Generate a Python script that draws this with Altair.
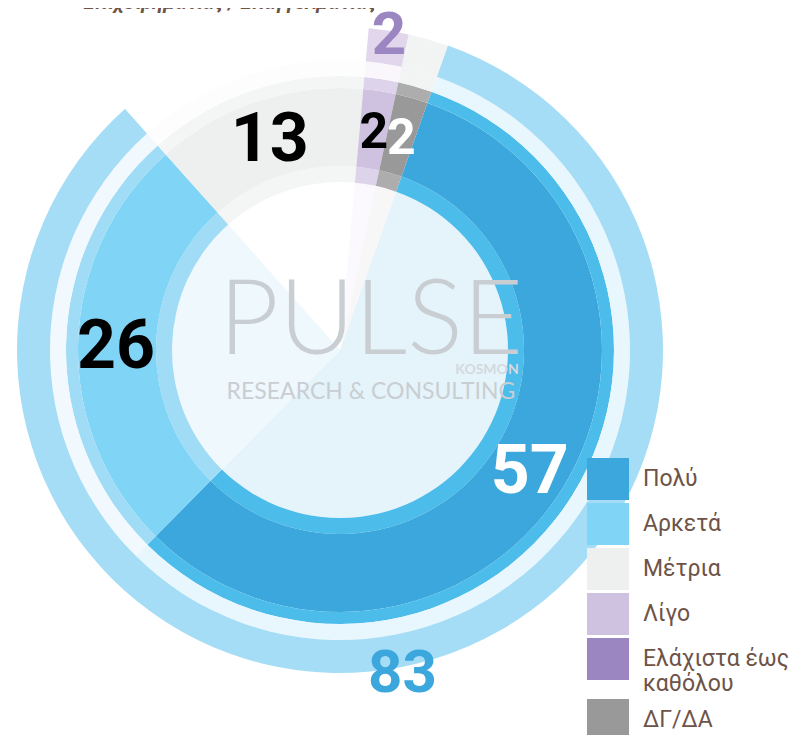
import math
import altair as alt
import pandas as pd

# ---------------- data ----------------
categories = ["Πολύ", "Αρκετά", "Μέτρια", "Λίγο", "Ελάχιστα έως καθόλου", "ΔΓ/ΔΑ"]
values = [57, 26, 13, 2, 0, 2]
value_labels = ["57", "26", "13", "2", "", "2"]

outer_groups = ["Πολύ + Αρκετά", "Μέτρια (σύνολο)", "Λίγο + Ελάχιστα", "ΔΓ/ΔΑ (σύνολο)"]
outer_values = [83, 13, 2, 2]
outer_labels = ["83", "", "2", ""]

title_text = "Επιχειρηματίας / Επαγγελματίας"
watermark_main = ["PULSE"]
watermark_sub = ["RESEARCH & CONSULTING"]
watermark_tag = ["KOSMON"]

# ---------------- styles ----------------
colors_main = ["#3ca7dc", "#80d4f6", "#eeefef", "#cfc1e0", "#9c86c1", "#999999"]
colors_strip = ["#4cbcea", "#a0dcf5", "#f4f5f5", "#ddd3ea", "#b8a8d5", "#adadad"]
colors_gap = ["#e8f6fd", "#f1f9fe", "#fdfdfd", "#f9f7fb", "#f5f2f9", "#f2f3f3"]
colors_disc = ["#e5f4fb", "#eff8fd", "#ffffff", "#fbf9fd", "#ffffff", "#f7f7f7"]
colors_outer = ["#a6ddf6", "#ffffff", "#e1d6ec", "#f2f3f3"]

NUM_FONT = "Roboto"
BROWN = "#6e5347"

inner_df = pd.DataFrame({"cat": categories, "value": values,
                         "label": value_labels, "idx": list(range(len(categories)))})
outer_df = pd.DataFrame({"grp": outer_groups, "value": outer_values,
                         "label": outer_labels, "idx": list(range(len(outer_groups)))})

start = math.radians(19.5)
theta_scale = alt.Scale(domain=[0, 100], range=[start, start + 2 * math.pi])
theta = alt.Theta("value:Q", stack=True, scale=theta_scale)
order = alt.Order("idx:Q")

legend = alt.Legend(
    orient="none", legendX=579, legendY=450, title=None,
    symbolType="square", symbolSize=1764, symbolStrokeWidth=0,
    labelFont=NUM_FONT, labelFontSize=23, labelColor=BROWN,
    labelOffset=14, rowPadding=3, labelLimit=230, padding=0,
    labelExpr="datum.label == 'Ελάχιστα έως καθόλου' ? ['Ελάχιστα έως', 'καθόλου'] : datum.label",
)


def ring(r_in, r_out, colors, leg=None):
    return alt.Chart(inner_df).mark_arc(radius=r_out, radius2=r_in).encode(
        theta=theta,
        order=order,
        color=alt.Color("cat:N", scale=alt.Scale(domain=categories, range=colors),
                        sort=categories, legend=leg),
    )


disc = ring(0, 168, colors_disc)
strip_in = ring(168, 184, colors_strip)
main = ring(184, 262, colors_main, legend)
strip_out = ring(262, 274, colors_strip)
gap = ring(274, 290, colors_gap)

outer = alt.Chart(outer_df).mark_arc(radius=323, radius2=290).encode(
    theta=theta,
    order=order,
    color=alt.Color("grp:N", scale=alt.Scale(domain=outer_groups, range=colors_outer),
                    legend=None),
)

wm1 = alt.Chart(pd.DataFrame({"t": watermark_main})).mark_text(
    font="Lato", fontWeight=300, fontSize=104, color="#c9ced2",
    align="center", baseline="alphabetic", dx=31, dy=4,
).encode(text="t:N")
wm2 = alt.Chart(pd.DataFrame({"t": watermark_sub})).mark_text(
    font="Lato", fontSize=23, color="#c9ced2",
    align="center", baseline="alphabetic", dx=31, dy=49,
).encode(text="t:N")
wm3 = alt.Chart(pd.DataFrame({"t": watermark_tag})).mark_text(
    font="Lato", fontWeight="bold", fontSize=14, color="#d3d9de",
    align="center", baseline="middle", dx=147, dy=20,
).encode(text="t:N")

inner_text = alt.Chart(inner_df).mark_text(
    radius=224, font=NUM_FONT, fontWeight="bold", align="center", baseline="middle", dy=4,
).encode(
    theta=theta,
    order=order,
    text="label:N",
    size=alt.condition("datum.value >= 10", alt.value(68), alt.value(50)),
    color=alt.condition("datum.cat == 'Πολύ' || datum.cat == 'ΔΓ/ΔΑ'",
                        alt.value("#ffffff"), alt.value("#000000")),
)

outer_text = alt.Chart(outer_df).mark_text(
    radius=324, font=NUM_FONT, fontWeight="bold", fontSize=60,
    align="center", baseline="middle", dy=6,
).encode(
    theta=theta,
    order=order,
    text="label:N",
    color=alt.condition("datum.value > 50", alt.value("#3ca7dc"), alt.value("#9c86c1")),
)

title = alt.Chart(pd.DataFrame({"t": [title_text]})).mark_text(
    font=NUM_FONT, fontStyle="italic", fontWeight="bold", fontSize=20, color=BROWN,
    align="center", baseline="alphabetic",
).encode(text="t:N", x=alt.value(222), y=alt.value(1))

chart = alt.layer(
    disc, strip_in, main, strip_out, gap, outer, wm1, wm2, wm3, inner_text, outer_text, title
).resolve_scale(color="independent").properties(
    width=664, height=684,
    autosize=alt.AutoSizeParams(type="none"),
    padding={"left": 0, "top": 0, "right": 124, "bottom": 43},
).configure_view(stroke=None)

chart.save("out.html", embed_options={"renderer": "svg", "actions": False})
